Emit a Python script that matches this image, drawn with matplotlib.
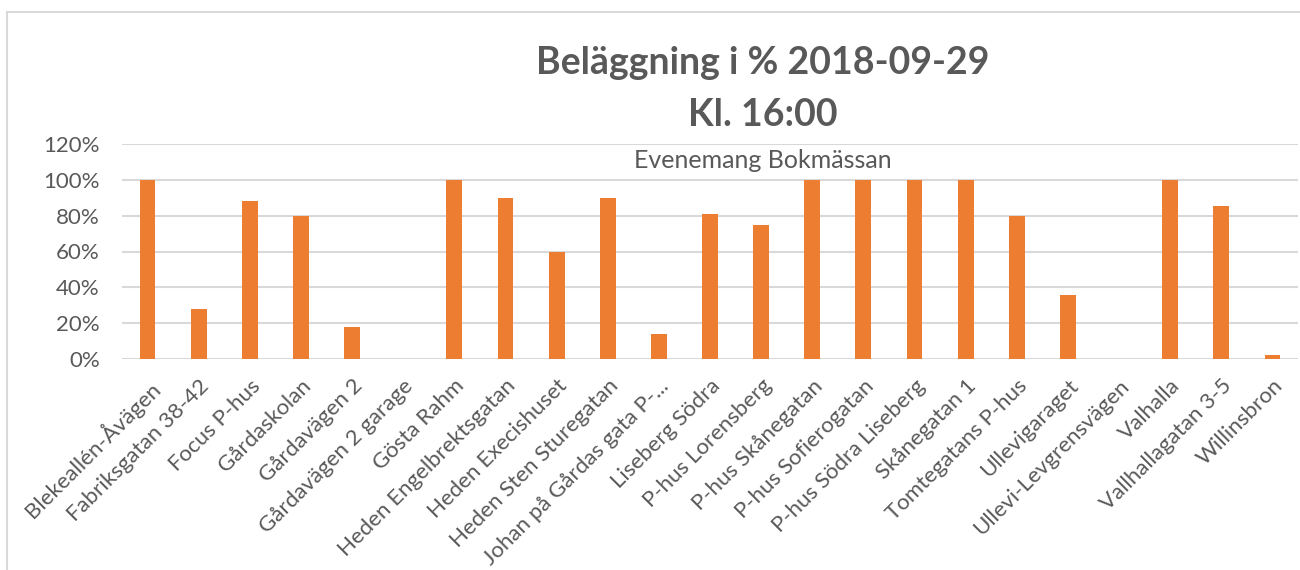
import matplotlib.pyplot as plt
from matplotlib.patches import Rectangle
from matplotlib.ticker import PercentFormatter

plt.rcParams['font.family'] = ['Lato', 'DejaVu Sans']

places = ["Blekeallén-Åvägen", "Fabriksgatan 38-42", "Focus P-hus", "Gårdaskolan",
          "Gårdavägen 2", "Gårdavägen 2 garage", "Gösta Rahm", "Heden Engelbrektsgatan",
          "Heden Execishuset", "Heden Sten Sturegatan", "Johan på Gårdas gata P-...",
          "Liseberg Södra", "P-hus Lorensberg", "P-hus Skånegatan", "P-hus Sofierogatan",
          "P-hus Södra Liseberg", "Skånegatan 1", "Tomtegatans P-hus", "Ullevigaraget",
          "Ullevi-Levgrensvägen", "Valhalla", "Vallhallagatan 3-5", "Willinsbron"]
occupancy = [1.00, 0.28, 0.88, 0.80, 0.18, 0.0, 1.00, 0.90, 0.60, 0.90, 0.14,
             0.81, 0.75, 1.00, 1.00, 1.00, 1.00, 0.80, 0.355, 0.0, 1.00, 0.856, 0.02]

title_text = "Beläggning i % 2018-09-29\nKl. 16:00"
subtitle_text = "Evenemang Bokmässan"

txt = '#595959'

fig = plt.figure(figsize=(13, 5.7), dpi=100)
fig.patches.append(Rectangle((7 / 1300, -0.1), 1.2, 1 - 12 / 570 + 0.1,
                             transform=fig.transFigure, fill=False,
                             edgecolor='#d9d9d9', linewidth=1.5))

ax = fig.add_axes([122 / 1300, 1 - 359 / 570, 1176 / 1300, 215 / 570])
x = range(len(places))
ax.bar(x, occupancy, width=0.31, color='#ED7D31', zorder=3)
ax.set_xlim(-0.5, len(places) - 0.5)
ax.set_ylim(0, 1.2)
ax.set_yticks([0, 0.2, 0.4, 0.6, 0.8, 1.0, 1.2])
ax.yaxis.set_major_formatter(PercentFormatter(1.0, decimals=0))
ax.grid(axis='y', color='#d9d9d9', linewidth=1.5, zorder=0)
for s in ax.spines.values():
    s.set_visible(False)
ax.tick_params(axis='both', length=0, labelsize=16, colors=txt)
ax.tick_params(axis='y', pad=16)
ax.set_xticks(list(x))
ax.set_xticklabels(places, rotation=45, ha='right', va='top', rotation_mode='anchor')
ax.tick_params(axis='x', pad=12)

fig.text(763 / 1300, 1 - 89 / 570, title_text, ha='center', va='center',
         fontsize=27, fontweight='bold', color=txt, linespacing=1.62)
fig.text(763 / 1300, 1 - 160 / 570, subtitle_text, ha='center', va='center',
         fontsize=18, color=txt)

fig.savefig('out.png', dpi=100)
